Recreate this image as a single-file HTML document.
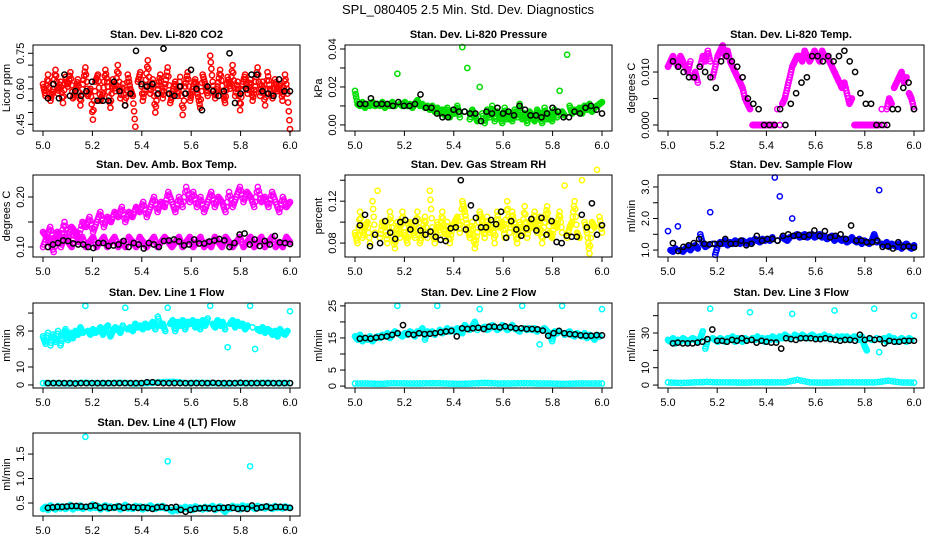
<!DOCTYPE html>
<html><head><meta charset="utf-8"><title>SPL_080405 Diagnostics</title>
<style>
html,body{margin:0;padding:0;background:#fff;}
svg{display:block;font-family:"Liberation Sans",Arial,sans-serif;}
</style></head>
<body>
<svg id="chart" width="936" height="540" viewBox="0 0 936 540">
<rect width="936" height="540" fill="#fff"/>
<text x="468" y="14" text-anchor="middle" font-size="13">SPL_080405  2.5 Min. Std. Dev. Diagnostics</text>
</svg>
<script>
const xTicks=[5.0,5.2,5.4,5.6,5.8,6.0];
const xTickLabels=["5.0","5.2","5.4","5.6","5.8","6.0"];

const co2Red=[0.62,0.57,0.66,0.55,0.60,0.68,0.58,0.63,0.54,0.65,0.61,0.67,0.56,0.59,0.64,0.53,0.62,0.69,0.57,0.60,0.47,0.63,0.66,0.55,0.58,0.68,0.61,0.52,0.64,0.59,0.70,0.56,0.62,0.53,0.66,0.60,0.57,0.44,0.63,0.67,0.55,0.61,0.72,0.58,0.64,0.50,0.60,0.66,0.56,0.62,0.69,0.54,0.59,0.63,0.57,0.65,0.49,0.61,0.67,0.55,0.60,0.64,0.58,0.52,0.66,0.62,0.57,0.74,0.63,0.56,0.61,0.68,0.59,0.54,0.65,0.60,0.70,0.57,0.63,0.51,0.62,0.66,0.58,0.64,0.55,0.61,0.69,0.57,0.63,0.53,0.67,0.60,0.56,0.64,0.59,0.62,0.55,0.66,0.58,0.43];
const co2Black=[0.56,0.62,0.56,0.66,0.57,0.59,0.57,0.59,0.63,0.55,0.55,0.55,0.63,0.59,0.53,0.58,0.76,0.62,0.61,0.62,0.58,0.77,0.58,0.57,0.61,0.58,0.68,0.60,0.51,0.61,0.59,0.57,0.59,0.75,0.54,0.58,0.60,0.66,0.66,0.59,0.58,0.57,0.64,0.59,0.59];

const presGreen=[.018,.011,.010,.012,.009,.011,.010,.012,.010,.011,.010,.012,.009,.011,.010,.012,.010,.027,.011,.010,.012,.010,.011,.009,.011,.013,.010,.011,.009,.010,.008,.010,.007,.009,.006,.008,.005,.009,.004,.007,.006,.010,.004,.041,.007,.030,.003,.008,.005,.002,.020,.006,.001,.008,.004,.010,.002,.007,.005,.001,.009,.003,.006,.002,.008,.004,.011,.003,.006,.001,.007,.004,.002,.008,.005,.001,.009,.003,.006,.002,.008,.004,.018,.007,.005,.037,.010,.006,.008,.007,.009,.006,.010,.008,.011,.007,.009,.010,.011,.012];
const presBlack=[.011,.011,.014,.011,.011,.011,.010,.012,.010,.010,.011,.016,.009,.009,.006,.004,.004,.008,.007,.007,.006,.006,.002,.007,.006,.009,.006,.007,.005,.010,.008,.005,.005,.004,.006,.009,.007,.004,.004,.007,.006,.009,.010,.008,.006];

const tempMag=[.011,.012,.013,.012,.011,.013,.012,.011,.010,.012,.009,.010,.008,.011,.013,.012,.014,.012,.009,.011,.013,.014,.015,.013,.014,.012,.011,.010,.009,.008,.007,.005,.004,.003,.000,.000,.000,.000,.000,.000,.000,.000,.000,.000,.003,.000,.004,.005,.007,.009,.011,.012,.013,.013,.012,.014,.013,.012,.013,.014,.013,.012,.014,.013,.013,.012,.011,.010,.009,.008,.007,.008,.006,.004,.005,.000,.000,.000,.000,.000,.000,.000,.000,.000,.000,.000,.003,.000,.003,.005,.004,.007,.008,.009,.010,.008,.009,.006,.005,.003];
const tempBlack=[.012,.011,.010,.009,.009,.011,.010,.009,.007,.012,.013,.012,.011,.009,.005,.004,.003,.000,.000,.000,.003,.000,.004,.006,.008,.009,.013,.013,.012,.013,.012,.013,.014,.012,.010,.006,.004,.004,.000,.000,.000,.003,.003,.007,.008,.003];

const ambUpper=[.13,.12,.14,.11,.13,.12,.15,.12,.14,.13,.12,.15,.14,.16,.13,.15,.17,.14,.16,.15,.17,.16,.18,.15,.17,.16,.18,.17,.19,.16,.18,.20,.17,.19,.18,.21,.19,.17,.20,.18,.22,.19,.21,.18,.20,.17,.19,.21,.18,.20,.19,.17,.21,.18,.20,.22,.19,.21,.20,.18,.22,.19,.20,.18,.21,.19,.17,.20,.18,.19];
const ambLower=[.10,.12,.11,.09,.13,.10,.12,.11,.10,.13,.11,.12,.10,.11,.12,.10,.11,.12,.10,.11,.12,.10,.11,.10,.12,.11,.10,.12,.11,.10,.11,.12,.10,.11,.12,.11,.10,.11,.12,.10,.11,.12,.10,.11,.12,.10,.11,.10,.12,.11,.10,.12,.11,.10,.11,.12,.10,.11,.12,.10,.11,.12,.10,.11,.12,.10,.11,.10,.12,.11];
const ambBlack=[.100,.105,.108,.113,.112,.107,.105,.105,.100,.098,.108,.108,.102,.103,.105,.112,.100,.108,.105,.097,.108,.105,.100,.112,.113,.115,.111,.103,.105,.115,.107,.107,.111,.113,.116,.113,.100,.108,.125,.127,.105,.115,.102,.112,.105,.122,.109,.108,.106];

const rhYellow=[.09,.08,.11,.085,.095,.10,.08,.12,.09,.13,.085,.10,.095,.08,.11,.09,.075,.10,.085,.11,.09,.08,.10,.095,.085,.11,.08,.09,.105,.085,.13,.095,.08,.10,.09,.11,.085,.10,.08,.095,.10,.105,.09,.12,.11,.095,.085,.10,.075,.09,.11,.10,.085,.105,.09,.10,.08,.11,.095,.10,.085,.12,.09,.11,.095,.08,.10,.09,.115,.085,.10,.095,.11,.09,.105,.08,.10,.115,.09,.085,.10,.095,.11,.09,.135,.085,.095,.10,.12,.09,.085,.14,.10,.09,.07,.10,.095,.15,.105,.09];
const rhBlack=[.097,.107,.077,.088,.080,.101,.090,.084,.100,.102,.093,.101,.092,.088,.091,.086,.083,.082,.094,.095,.140,.093,.116,.104,.095,.095,.102,.098,.110,.085,.101,.093,.087,.094,.103,.092,.104,.088,.101,.081,.080,.087,.086,.086,.107,.095,.118,.088,.097];

const flowBlue=[1.6,1.0,0.95,1.05,1.75,1.0,0.95,1.05,1.1,1.0,1.1,1.15,1.05,1.5,1.2,1.1,1.15,2.2,1.2,0.85,1.15,1.25,1.2,1.3,1.15,1.25,1.2,1.3,1.25,1.2,1.3,1.25,1.2,1.3,1.25,1.35,1.3,1.25,1.35,1.3,1.35,1.3,1.4,3.3,1.3,2.7,1.4,1.35,1.3,1.4,2.0,1.45,1.5,1.4,1.45,1.5,1.4,1.45,1.5,1.4,1.45,1.5,1.4,1.45,1.35,1.4,1.45,1.3,1.4,1.35,1.3,1.35,1.25,1.3,1.4,1.3,1.25,1.35,1.2,1.3,1.25,1.2,1.3,1.5,1.25,2.9,1.2,1.15,1.25,1.1,1.2,1.15,1.1,1.2,1.05,1.15,1.2,1.1,1.05,1.15];
const flowBlack=[1.22,0.97,1.1,1.15,1.22,1.35,1.2,1.18,1.2,1.2,1.35,1.2,1.2,1.3,1.15,1.2,1.45,1.3,1.35,1.35,1.3,1.45,1.5,1.45,1.48,1.42,1.48,1.62,1.45,1.6,1.4,1.45,1.5,1.35,1.78,1.3,1.3,1.25,1.25,1.3,1.1,1.12,1.05,1.25,1.1,1.12,1.08];

const line1Cyan=[27,23,29,22,28,24,30,22,27,31,25,29,26,30,28,32,29,44,30,28,31,29,30,32,28,31,33,27,30,32,31,29,33,43,31,32,30,34,32,33,31,34,32,33,35,31,38,33,34,30,43,34,36,30,35,33,36,31,35,34,36,32,35,31,36,33,37,44,34,32,36,33,35,31,21,34,36,32,35,33,34,31,33,44,32,20,31,30,32,29,31,30,28,30,27,31,29,28,30,41];
const line1CyanLow=[1,1,0.8,1.2,1,1,1.2,0.8,1,1.5,1.8,1,1.2,1,0.8,1,1,1.2,1,1];
const line1Black=[1,1,1,1,1,0.8,1,1,1,1,1,1,1,1,1,1,1,1,1.5,1.5,1.2,1,1,1,1,1,1,1,1,1,1.2,1,1,1,1,1.2,1,1,1,1,1,1,1,1,1];

const line2Cyan=[15.5,14.5,16,14,15,14.5,15.5,14,15,15.5,15,16,15.5,16.5,15,16,17,25,16,15.5,16.5,16,17,16.5,15.5,17,16.5,18,14.5,17,16.5,17,16,25,17.5,16.5,17,18,17,17.5,17,18,17.5,16.5,19,18,17.5,18.5,20,17.5,24,18,18.5,17.5,18,19,18.5,17.5,18,19,18.5,17.5,18,19,18,17.5,17,25,18,17.5,18,17.5,18,17,13,17.5,18,17,16.5,14,17,16.5,17,25,16,16.5,17,16,15.5,16.5,16,15.5,16.5,15,16,15.5,14.5,16,15.5,24];
const line2CyanLow=[0.8,0.8,0.7,0.9,0.8,0.8,0.9,0.8,0.7,0.8,1.0,0.8,0.8,0.9,0.8,0.8,0.7,0.8,0.8,0.8];
const line2Black=[14.8,15,14.8,15.1,15.3,15.5,16,16.5,19,16.2,16,16.5,16.2,16.3,16.5,16.8,17,17.2,15.5,18,17.8,18,18.2,17.8,18.5,18.5,18.3,18.6,18.3,18,18,17.8,17.8,17.7,17.3,15.7,16.5,17.2,16.5,16.2,16.1,15.8,15.7,15.7,15.9,15.8];

const line3Cyan=[26,25,27,24,26,25,27,26,25,26,27,26,25,27,31,21,26,44,27,26,25,27,26,25,27,26,28,25,27,26,25,27,26,42,27,26,28,26,27,25,27,26,28,27,26,28,27,29,28,27,41,29,28,27,29,28,27,28,29,28,27,28,27,29,27,28,27,43,28,27,28,27,28,26,27,28,27,26,28,23,20,27,26,44,27,19,26,27,25,28,26,27,25,26,27,26,25,27,26,40];
const line3CyanLow=[1.5,1.2,1.5,1.8,1.5,1.5,1.4,1.6,1.5,1.5,3,1.5,1.4,1.5,1.6,1.5,1.5,2.5,1.5,1.4];
const line3Black=[24,24.5,24,24,24,24.5,25,26.5,32,25.5,25.5,25,26,25.5,27,25.5,26,24.5,25.5,25,24.5,24.5,21,27,26.5,26,27,27,27,26.5,26.5,27,26.5,26,25.5,26,26,25.5,29,26,27,26,26.5,24,25.5,25,25,25.5,25.5,25.5];

const line4Cyan=[0.38,0.42,0.36,0.45,0.40,0.37,0.44,0.39,0.43,0.38,0.41,0.46,0.37,0.43,0.40,0.45,0.38,1.85,0.42,0.39,0.47,0.40,0.44,0.37,0.42,0.45,0.38,0.43,0.40,0.41,0.44,0.37,0.42,0.46,0.39,0.41,0.38,0.44,0.40,0.43,0.37,0.42,0.39,0.45,0.41,0.38,0.43,0.40,0.44,0.39,1.35,0.36,0.33,0.38,0.35,0.40,0.37,0.42,0.38,0.41,0.36,0.43,0.39,0.40,0.37,0.42,0.38,0.41,0.44,0.36,0.40,0.43,0.37,0.32,0.41,0.38,0.44,0.40,0.42,0.37,0.45,0.39,0.43,1.25,0.41,0.38,0.44,0.40,0.42,0.39,0.43,0.41,0.38,0.44,0.40,0.42,0.39,0.43,0.41,0.40];
const line4Black=[.40,.41,.42,.42,.43,.44,.44,.43,.42,.44,.45,.40,.42,.40,.41,.43,.40,.42,.41,.40,.41,.40,.38,.41,.42,.40,.41,.42,.36,.32,.36,.38,.39,.40,.39,.38,.40,.40,.41,.40,.38,.39,.38,.45,.39,.41,.43,.40,.42,.42,.41,.40];

const colL=[33,345,658], colR=[300,612,924];
const rowT=[45,175,303,433], rowB=[131,257,388,516];

const panels=[
 {key:"co2",title:"Stan. Dev. Li-820 CO2",ylab:"Licor ppm",c:0,r:0,tol:0.45,ylim:[0.422,0.785],yt:[0.45,0.5,0.55,0.6,0.65,0.7,0.75],yl:{0.45:"0.45",0.6:"0.60",0.75:"0.75"},series:[[co2Red,"#ff0000",0],[co2Black,"#000",1]]},
 {key:"pressure",title:"Stan. Dev. Li-820 Pressure",ylab:"kPa",c:1,r:0,tol:0.2,ylim:[-0.0032,0.0421],yt:[0,0.01,0.02,0.03,0.04],yl:{0:"0.00",0.02:"0.02",0.04:"0.04"},series:[[presGreen,"#00dd00",0],[presBlack,"#000",1]]},
 {key:"temp",title:"Stan. Dev. Li-820 Temp.",ylab:"degrees C",c:2,r:0,tol:0.13,ylim:[-0.00113,0.0151],yt:[0,0.005,0.01],yl:{0:"0.000",0.01:"0.010"},series:[[tempMag,"#ff00ff",0],[tempBlack,"#000",1]]},
 {key:"amb",title:"Stan. Dev. Amb. Box Temp.",ylab:"degrees C",c:0,r:1,tol:0.3,ylim:[0.08,0.244],yt:[0.1,0.15,0.2],yl:{0.1:"0.10",0.2:"0.20"},series:[[ambUpper,"#ff00ff",0],[ambLower,"#ff00ff",0],[ambBlack,"#000",1]]},
 {key:"rh",title:"Stan. Dev. Gas Stream RH",ylab:"percent",c:1,r:1,tol:0.45,ylim:[0.0667,0.145],yt:[0.08,0.1,0.12,0.14],yl:{0.08:"0.08",0.12:"0.12"},series:[[rhYellow,"#ffff00",0],[rhBlack,"#000",1]]},
 {key:"sample",title:"Stan. Dev. Sample Flow",ylab:"ml/min",c:2,r:1,tol:0.13,ylim:[0.78,3.38],yt:[1,1.5,2,2.5,3],yl:{1:"1.0",2:"2.0",3:"3.0"},series:[[flowBlue,"#0000ff",0],[flowBlack,"#000",1]]},
 {key:"line1",title:"Stan. Dev. Line 1 Flow",ylab:"ml/min",c:0,r:2,tol:0.13,ylim:[-1.7,45.6],yt:[0,10,20,30,40],yl:{0:"0",10:"10",30:"30"},series:[[line1Cyan,"#00ffff",0],[line1CyanLow,"#00ffff",0],[line1Black,"#000",1]]},
 {key:"line2",title:"Stan. Dev. Line 2 Flow",ylab:"ml/min",c:1,r:2,tol:0.13,ylim:[-0.6,25.9],yt:[0,5,10,15,20,25],yl:{0:"0",5:"5",15:"15",25:"25"},series:[[line2Cyan,"#00ffff",0],[line2CyanLow,"#00ffff",0],[line2Black,"#000",1]]},
 {key:"line3",title:"Stan. Dev. Line 3 Flow",ylab:"ml/min",c:2,r:2,tol:0.13,ylim:[-1.7,47.3],yt:[0,10,20,30,40],yl:{0:"0",10:"10",30:"30"},series:[[line3Cyan,"#00ffff",0],[line3CyanLow,"#00ffff",0],[line3Black,"#000",1]]},
 {key:"line4",title:"Stan. Dev. Line 4 (LT) Flow",ylab:"ml/min",c:0,r:3,tol:0.13,ylim:[0.235,1.93],yt:[0.5,1,1.5],yl:{0.5:"0.5",1:"1.0",1.5:"1.5"},series:[[line4Cyan,"#00ffff",0],[line4Black,"#000",1]]}
];

const svg=document.getElementById('chart');
const NS="http://www.w3.org/2000/svg";
function mk(tag,attrs,parent){const e=document.createElementNS(NS,tag);for(const k in attrs)e.setAttribute(k,attrs[k]);parent.appendChild(e);return e;}

panels.forEach(p=>{
  const L=colL[p.c],R=colR[p.c],T=rowT[p.r],B=rowB[p.r];
  const xs=v=>(L+10)+(v-5)*((R-10)-(L+10));
  const ys=v=>B-(v-p.ylim[0])/(p.ylim[1]-p.ylim[0])*(B-T);
  const g=mk('g',{},svg);
  
  
  const t=mk('text',{x:(L+R)/2,y:T-7,'text-anchor':'middle','font-size':'11','font-weight':'bold'},g);
  t.textContent=p.title;
  
  
  const pts=mk('g',{fill:'none','stroke-width':'1.5'},g);
  
  
  const range=p.ylim[1]-p.ylim[0];
  p.series.forEach(s=>{
    const vals=s[0],col=s[1],black=s[2];
    const n=vals.length;
    const x0=black?5.02:5.0, x1=6.0;
    const step=n>1?(x1-x0)/(n-1):0;
    vals.forEach((v,i)=>{
      const xv=x0+i*step;
      const c=mk('circle',{cx:xs(xv).toFixed(1),cy:ys(v).toFixed(1),r:'2.6',stroke:col},pts);
      
      
      if(!black && i<n-1){
        const nv=vals[i+1];
        if(Math.abs(nv-v)<=range*p.tol){
          for(let k=1;k<4;k++){
            const f=k/4;
            const b=mk('circle',{cx:xs(xv+f*step).toFixed(1),cy:ys(v+(nv-v)*f).toFixed(1),r:'2.6',stroke:col},pts);
            
            
          }
        }
      }
    });
  });
  const box=mk('rect',{x:L,y:T,width:R-L,height:B-T,fill:'none',stroke:'#000','stroke-width':'1'},g);
  
  
  const xa=mk('g',{},g);
  
  
  mk('line',{x1:xs(5),x2:xs(6),y1:B,y2:B,stroke:'#000'},xa);
  xTicks.forEach((v,i)=>{
    mk('line',{x1:xs(v),x2:xs(v),y1:B,y2:B+5,stroke:'#000'},xa);
    const tl=mk('text',{x:xs(v),y:B+18,'text-anchor':'middle','font-size':'11'},xa);
    tl.textContent=xTickLabels[i];
    
    
  });
  const ya=mk('g',{},g);
  
  
  mk('line',{x1:L,x2:L,y1:ys(p.yt[0]),y2:ys(p.yt[p.yt.length-1]),stroke:'#000'},ya);
  p.yt.forEach(v=>{
    mk('line',{x1:L-5,x2:L,y1:ys(v),y2:ys(v),stroke:'#000'},ya);
    if(p.yl[v]!==undefined){
      const yy=ys(v),xx=L-9;
      const tl=mk('text',{x:xx,y:yy,'text-anchor':'middle','font-size':'11',transform:`rotate(-90 ${xx} ${yy})`},ya);
      tl.textContent=p.yl[v];
      
      
    }
  });
  const yx=L-23,yy=(T+B)/2;
  const yt=mk('text',{x:yx,y:yy,'text-anchor':'middle','font-size':'11',transform:`rotate(-90 ${yx} ${yy})`},g);
  yt.textContent=p.ylab;
  
  
});
</script>
</body></html>
